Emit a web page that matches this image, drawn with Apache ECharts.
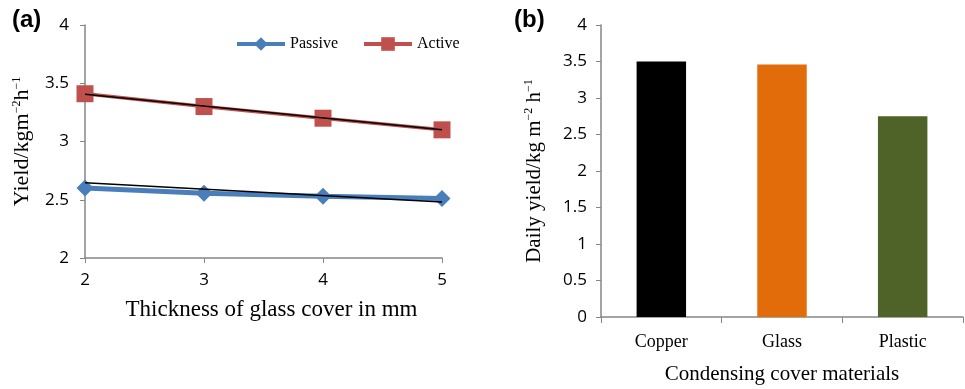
<!DOCTYPE html>
<html>
<head>
<meta charset="utf-8">
<script src="https://cdn.jsdelivr.net/npm/echarts@6/dist/echarts.min.js"></script>
<style>
  html, body { margin: 0; padding: 0; background: #fff; }
  #Chart { width: 965px; height: 389px; }
</style>
</head>
<body>
<div id="Chart"></div>
<script>
// panel (a) - yield vs glass thickness
var thickness = [2, 3, 4, 5];
var passive = [2.6, 2.555, 2.53, 2.51];
var active = [3.41, 3.3, 3.2, 3.1];
// trend lines (ends only)
var trendX = [2, 5];
var passiveTrend = [2.645, 2.48];
var activeTrend = [3.405, 3.1];

// panel (b) - condensing cover materials
var materials = ['Copper', 'Glass', 'Plastic'];
var dailyYield = [3.5, 3.46, 2.75];
var barColors = ['#000000', '#E36C0A', '#4F6228'];

var axisGray = '#868686';
var serif = '"Liberation Serif", "DejaVu Serif", serif';
var sans = '"Open Sans", "Noto Sans", sans-serif';

function pairs(xs, ys) {
    return xs.map(function (x, i) { return [x, ys[i]]; });
}

var supRich = {
    sup: { fontSize: 12, fontFamily: serif, color: '#000', verticalAlign: 'top', padding: [0, 0, 10, 0] }
};

var Chart = echarts.init(document.getElementById('Chart'));

var ChartOption = {
    animation: false,
    graphic: [
        { type: 'text', left: 12, top: 8, style: { text: '(a)', font: 'bold 24px "Liberation Sans", Arial, sans-serif', fill: '#000' } },
        { type: 'text', left: 514, top: 8, style: { text: '(b)', font: 'bold 24px "Liberation Sans", Arial, sans-serif', fill: '#000' } }
    ],
    legend: {
        data: ['Passive', 'Active'],
        left: 230,
        top: 31,
        itemWidth: 48,
        itemHeight: 17,
        itemGap: 24,
        lineStyle: { width: 4 },
        textStyle: { fontFamily: serif, fontSize: 16, color: '#000' }
    },
    grid: [
        { left: 85, top: 25, width: 357, height: 233, outerBoundsMode: 'none' },
        { left: 601, top: 25, width: 362, height: 292, outerBoundsMode: 'none' }
    ],
    xAxis: [{
        gridIndex: 0,
        type: 'value',
        min: 2, max: 5, interval: 1,
        splitLine: { show: false },
        axisLine: { lineStyle: { color: axisGray, width: 1.5 } },
        axisTick: { show: true, length: 5, lineStyle: { color: axisGray } },
        axisLabel: { color: '#000', fontFamily: sans, fontSize: 17, margin: 14 },
        name: 'Thickness of glass cover in mm',
        nameLocation: 'middle',
        nameGap: 40,
        nameTextStyle: { fontFamily: serif, fontSize: 23, color: '#000', padding: [0, 0, 0, 16] }
    }, {
        gridIndex: 1,
        type: 'category',
        data: materials,
        axisLine: { lineStyle: { color: axisGray, width: 1.5 } },
        axisTick: { show: true, length: 6, alignWithLabel: false, lineStyle: { color: axisGray } },
        axisLabel: { color: '#000', fontFamily: serif, fontSize: 18, margin: 16 },
        name: 'Condensing cover materials',
        nameLocation: 'middle',
        nameGap: 47,
        nameTextStyle: { fontFamily: serif, fontSize: 21, color: '#000' }
    }],
    yAxis: [{
        gridIndex: 0,
        type: 'value',
        min: 2, max: 4, interval: 0.5,
        splitLine: { show: false },
        axisLine: { show: true, lineStyle: { color: axisGray, width: 1.5 } },
        axisTick: { show: true, length: 5, lineStyle: { color: axisGray } },
        axisLabel: { color: '#000', fontFamily: sans, fontSize: 17, margin: 16 },
        name: 'Yield/kgm{sup|−2}h{sup|−1}',
        nameLocation: 'middle',
        nameRotate: 90,
        nameGap: 52,
        nameTextStyle: { fontFamily: serif, fontSize: 22, color: '#000', rich: supRich }
    }, {
        gridIndex: 1,
        type: 'value',
        min: 0, max: 4, interval: 0.5,
        splitLine: { show: false },
        axisLine: { show: true, lineStyle: { color: axisGray, width: 1.5 } },
        axisTick: { show: true, length: 5, lineStyle: { color: axisGray } },
        axisLabel: { color: '#000', fontFamily: sans, fontSize: 17, margin: 14 },
        name: 'Daily yield/kg m{sup|−2} h{sup|−1}',
        nameLocation: 'middle',
        nameRotate: 90,
        nameGap: 56,
        nameTextStyle: { fontFamily: serif, fontSize: 21, color: '#000', rich: supRich }
    }],
    series: [{
        name: 'Passive',
        type: 'line',
        xAxisIndex: 0, yAxisIndex: 0,
        data: pairs(thickness, passive),
        symbol: 'diamond',
        symbolSize: 17,
        itemStyle: { color: '#4A7EBB' },
        lineStyle: { color: '#4A7EBB', width: 5 },
        z: 2
    }, {
        name: 'Active',
        type: 'line',
        xAxisIndex: 0, yAxisIndex: 0,
        data: pairs(thickness, active),
        symbol: 'rect',
        symbolSize: 17,
        itemStyle: { color: '#C0504D' },
        lineStyle: { color: '#C0504D', width: 3.5 },
        z: 2
    }, {
        name: 'Passive trend',
        type: 'line',
        xAxisIndex: 0, yAxisIndex: 0,
        data: pairs(trendX, passiveTrend),
        symbol: 'none',
        lineStyle: { color: '#000', width: 1.5 },
        z: 3
    }, {
        name: 'Active trend',
        type: 'line',
        xAxisIndex: 0, yAxisIndex: 0,
        data: pairs(trendX, activeTrend),
        symbol: 'none',
        lineStyle: { color: '#000', width: 1.5 },
        z: 3
    }, {
        name: 'Daily yield',
        type: 'bar',
        xAxisIndex: 1, yAxisIndex: 1,
        barWidth: '41%',
        data: dailyYield.map(function (v, i) {
            return { value: v, itemStyle: { color: barColors[i] } };
        })
    }]
};

Chart.setOption(ChartOption);
window.addEventListener("resize", function () {
    Chart.resize();
});
</script>
</body>
</html>
